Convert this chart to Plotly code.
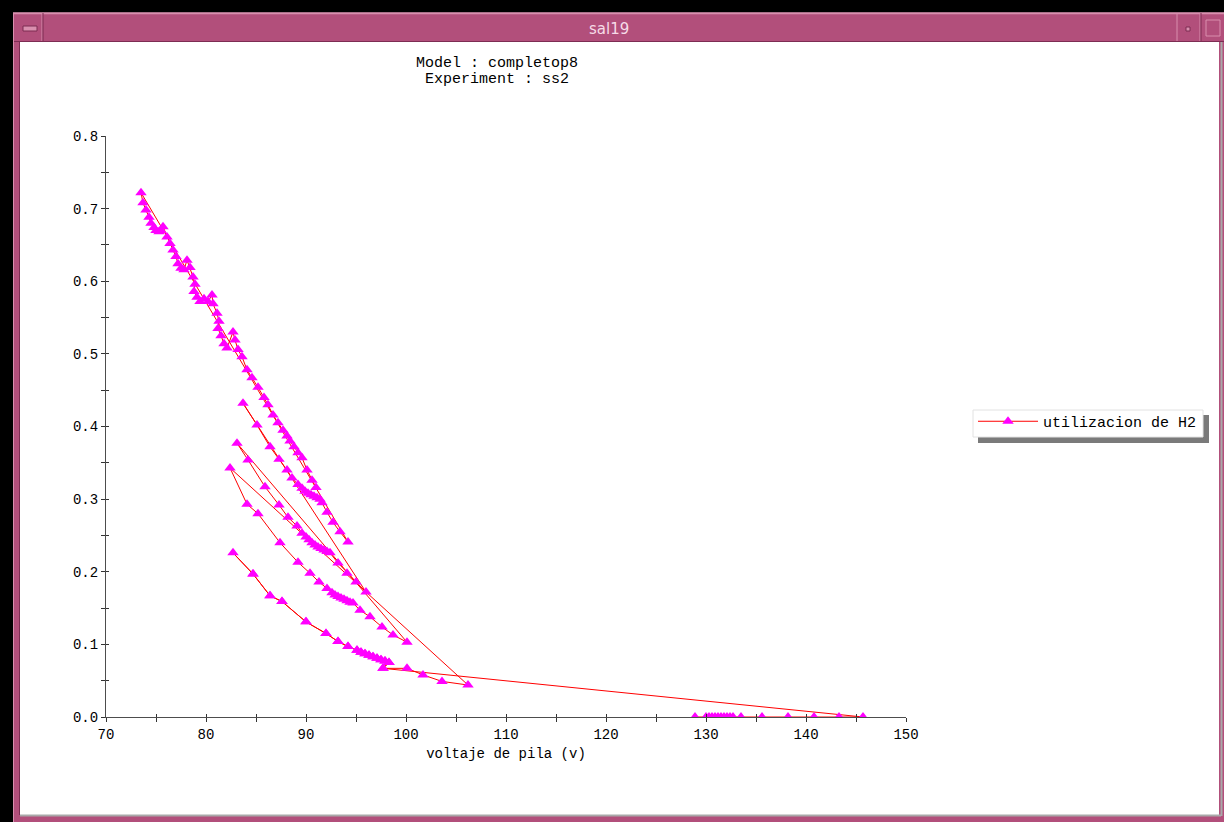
import plotly.graph_objects as go

# ---------------- data ----------------
# top curve, listed from its upper-left start to its lower end
a_x = [73.5, 73.7, 74.0, 74.3, 74.5, 74.8, 75.0, 75.3, 75.5, 75.7, 76.1, 76.4, 76.7, 77.0,
       77.2, 77.5, 77.8, 78.1, 78.4, 78.7, 78.9, 78.8, 79.1, 79.4, 79.8, 80.2, 80.6, 80.7,
       81.1, 81.3, 81.2, 81.5, 81.8, 82.1, 82.7, 82.9, 83.2, 83.6, 84.1, 84.6, 85.2, 85.8,
       86.2, 86.7, 87.2, 87.7, 88.1, 88.4, 88.8, 89.2, 89.6, 90.1, 90.6, 91.0]
a_y = [0.722, 0.708, 0.698, 0.688, 0.680, 0.674, 0.670, 0.668, 0.670, 0.675, 0.661, 0.652,
       0.643, 0.634, 0.624, 0.618, 0.616, 0.629, 0.619, 0.606, 0.596, 0.586, 0.578, 0.572,
       0.576, 0.572, 0.581, 0.569, 0.556, 0.545, 0.535, 0.525, 0.514, 0.508, 0.530, 0.519,
       0.506, 0.496, 0.478, 0.467, 0.454, 0.440, 0.430, 0.416, 0.405, 0.395, 0.387, 0.380,
       0.372, 0.364, 0.357, 0.340, 0.326, 0.316]

b_x = [83.7, 85.1, 86.4, 87.3, 88.1, 88.6, 89.2, 89.6, 89.9, 90.2, 90.5, 90.8, 91.1, 91.4,
       91.6, 92.1, 92.7, 93.4, 94.2]
b_y = [0.432, 0.402, 0.372, 0.355, 0.340, 0.329, 0.320, 0.315, 0.311, 0.308, 0.306, 0.304,
       0.302, 0.300, 0.295, 0.282, 0.268, 0.255, 0.241]

c_x = [83.1, 84.2, 85.9, 87.3, 88.2, 89.1, 89.6, 90.0, 90.3, 90.6, 90.9, 91.2, 91.5, 91.8,
       92.1, 92.4, 93.2, 94.1, 95.0, 96.0]
c_y = [0.377, 0.354, 0.317, 0.292, 0.275, 0.263, 0.253, 0.248, 0.244, 0.240, 0.237, 0.234,
       0.232, 0.230, 0.228, 0.226, 0.212, 0.198, 0.186, 0.172]

d_x = [82.4, 84.1, 85.2, 87.4, 89.2, 90.4, 91.3, 92.1, 92.6, 92.9, 93.2, 93.5, 93.8, 94.1,
       94.4, 94.7, 95.4, 96.4, 97.6, 98.7, 100.1]
d_y = [0.343, 0.293, 0.280, 0.240, 0.213, 0.198, 0.186, 0.177, 0.171, 0.168, 0.166, 0.164,
       0.162, 0.160, 0.158, 0.157, 0.147, 0.138, 0.124, 0.113, 0.103]

e_x = [82.7, 84.7, 86.4, 87.6, 90.0, 92.0, 93.2, 94.2, 95.1, 95.5, 95.9, 96.3, 96.7, 97.1,
       97.5, 97.9, 98.3, 97.7, 100.1, 101.7, 103.6, 106.2]
e_y = [0.226, 0.197, 0.167, 0.159, 0.131, 0.115, 0.104, 0.097, 0.092, 0.089, 0.087, 0.085,
       0.083, 0.081, 0.079, 0.077, 0.075, 0.067, 0.067, 0.058, 0.049, 0.044]
e_tail = 4  # points of E beyond the return jump

z_x = [145.7, 143.3, 140.8, 138.2, 135.6, 133.5, 132.7, 132.4, 132.1, 131.8, 131.5, 131.2,
       130.9, 130.6, 130.3, 130.0, 128.9]
z_y = [0.0] * len(z_x)

# plotting order of the single series
seq_x = (a_x[::-1] + b_x[::-1] + c_x[::-1] + d_x[::-1] + e_x[::-1]
         + e_x[1:len(e_x) - e_tail] + z_x)
seq_y = (a_y[::-1] + b_y[::-1] + c_y[::-1] + d_y[::-1] + e_y[::-1]
         + e_y[1:len(e_y) - e_tail] + z_y)

series_name = "utilizacion de H2"
window_title = "sal19"
title_lines = ["Model : completop8", "Experiment : ss2"]
x_title = "voltaje de pila (v)"

# ---------------- figure ----------------
W, H = 1224, 822
L, R, T, B = 106, 906, 136, 717


def px(x):
    return (x - L) / (R - L)


def py(y):
    return (B - y) / (B - T)


MONO = "Liberation Mono"
PINK = "#b24f7b"
PINK_L = "#d98fae"
PINK_D = "#7d2d53"

fig = go.Figure()
fig.add_trace(go.Scatter(
    x=seq_x, y=seq_y, mode="lines+markers", name=series_name,
    line=dict(color="#ff0000", width=1),
    marker=dict(symbol="triangle-up", size=10, color="#ff00ff",
                line=dict(width=0)),
))
# helper trace so the overlay axes (inner tick halves) get drawn
fig.add_trace(go.Scatter(x=[None], y=[None], xaxis="x2", yaxis="y2",
                         showlegend=False, hoverinfo="skip"))

axis_common = dict(showgrid=False, zeroline=False, linecolor="#4d4d4d", linewidth=1,
                   tickcolor="#333333", tickwidth=1, mirror=False,
                   tickfont=dict(family=MONO, size=14, color="#000000"))

fig.update_layout(
    width=W, height=H, autosize=False,
    margin=dict(l=L, r=W - R, t=T, b=H - B, pad=0),
    paper_bgcolor="#ffffff", plot_bgcolor="#ffffff",
    showlegend=True,
    xaxis=dict(range=[70, 150], tick0=70, dtick=10, ticks="outside", ticklen=4,
               showline=True, title=dict(text=x_title, standoff=6,
                                         font=dict(family=MONO, size=14, color="#000")),
               minor=dict(dtick=5, ticks="outside", ticklen=4, tickcolor="#333333"),
               **axis_common),
    yaxis=dict(range=[0, 0.8], tick0=0, dtick=0.1, tickformat=".1f", ticks="outside",
               ticklen=4, showline=True,
               minor=dict(dtick=0.05, ticks="outside", ticklen=4, tickcolor="#333333"),
               **axis_common),
    xaxis2=dict(range=[70, 150], overlaying="x", matches="x", tick0=70, dtick=10,
                ticks="inside", ticklen=3, showticklabels=False, showgrid=False,
                zeroline=False, showline=False, tickcolor="#333333",
                minor=dict(dtick=5, ticks="inside", ticklen=3, tickcolor="#333333")),
    yaxis2=dict(range=[0, 0.8], overlaying="y", matches="y", tick0=0, dtick=0.1,
                ticks="inside", ticklen=3, showticklabels=False, showgrid=False,
                zeroline=False, showline=False, tickcolor="#333333",
                minor=dict(dtick=0.05, ticks="inside", ticklen=3, tickcolor="#333333")),
    legend=dict(x=px(973), y=py(405), xanchor="left", yanchor="top",
                bgcolor="rgba(0,0,0,0)", borderwidth=0,
                font=dict(family=MONO, size=15, color="#000000"),
                itemwidth=60),
)

shapes = []


def rect(x0, y0, x1, y1, fill, line=None, lw=0):
    shapes.append(dict(type="rect", xref="paper", yref="paper",
                       x0=px(x0), x1=px(x1), y0=py(y0), y1=py(y1),
                       fillcolor=fill, line=dict(color=line or fill, width=lw),
                       layer="above"))


def hline(x0, x1, y, color, w=1):
    shapes.append(dict(type="line", xref="paper", yref="paper",
                       x0=px(x0), x1=px(x1), y0=py(y), y1=py(y),
                       line=dict(color=color, width=w), layer="above"))


def vline(x, y0, y1, color, w=1):
    shapes.append(dict(type="line", xref="paper", yref="paper",
                       x0=px(x), x1=px(x), y0=py(y0), y1=py(y1),
                       line=dict(color=color, width=w), layer="above"))


# window frame
rect(0, 0, W, 12.5, "#000000")
rect(0, 0, 13, H, "#000000")
rect(13, 12.5, W, 42, PINK)
rect(13, 42, 20, H, PINK)
rect(1219, 42, W, H, PINK)
rect(13, 816, W, H, PINK)
hline(13, W, 13.5, PINK_L, 1.5)
hline(13, W, 41.5, PINK_D, 1)
vline(13.5, 13, H, PINK_L, 1)
vline(19.5, 42, 815, PINK_D, 1)
vline(42, 13, 41, PINK_L, 1)
vline(43, 13, 41, PINK_D, 1)
vline(1177, 13, 41, PINK_L, 1)
vline(1200, 13, 41, PINK_L, 1)
vline(1201, 13, 41, PINK_D, 1)
# window buttons
rect(23, 26, 37, 31, PINK_L, PINK_D, 1)
rect(1186, 27, 1190, 31, PINK_L, PINK_D, 1)
rect(1206, 20, 1220, 36, PINK, PINK_L, 1)
# inner grey borders
hline(20, 1221, 815.5, "#a9a9a9", 2)
vline(1221.5, 42, 816, "#a9a9a9", 2)
# legend shadow and box
rect(978, 415, 1209, 443, "#7a7a7a")
rect(973, 410, 1203, 437, "#ffffff", "#e2e2e2", 1)

fig.update_layout(shapes=shapes)

anns = [
    dict(text=window_title, x=px(609), y=py(29), font=dict(family="DejaVu Sans", size=15,
                                                            color="#f6dbe7")),
    dict(text=title_lines[0], x=px(497), y=py(63), font=dict(family=MONO, size=15,
                                                              color="#000000")),
    dict(text=title_lines[1], x=px(497), y=py(79), font=dict(family=MONO, size=15,
                                                              color="#000000")),
]
for a in anns:
    a.update(xref="paper", yref="paper", showarrow=False, xanchor="center",
             yanchor="middle")
fig.update_layout(annotations=anns)

fig.write_html("out.html", config={"displayModeBar": False})

# remove the browser's default page margin so the figure sits at the window origin
with open("out.html", encoding="utf-8") as fh:
    page = fh.read()
page = page.replace("<body>", '<body style="margin:0;padding:0;">', 1)
page = page.replace("<head>", "<head><style>html,body{margin:0;padding:0;overflow:hidden;}</style>", 1)
with open("out.html", "w", encoding="utf-8") as fh:
    fh.write(page)
